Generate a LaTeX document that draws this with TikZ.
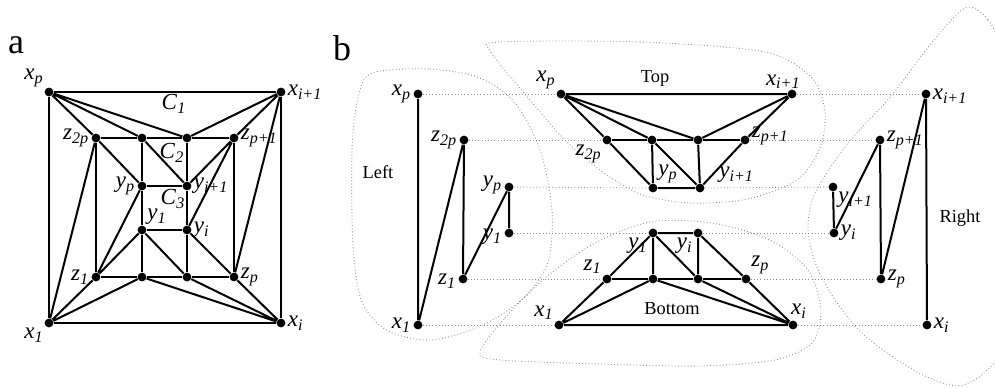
\documentclass[tikz,border=0pt]{standalone}
\usepackage{fontspec}
\setmainfont{Liberation Serif}
\newcommand{\vx}[2]{\textit{#1}\textsubscript{\textit{#2}}}

\begin{document}
\begin{tikzpicture}[
  x=0.5pt, y=-0.5pt,
  font=\fontsize{9.2}{11}\selectfont,
  dot/.style={circle, fill=black, inner sep=0pt, minimum size=4.4pt},
  edge/.style={line width=1pt},
  guide/.style={dash pattern=on 0.4pt off 1.2pt, black!45, line width=0.4pt},
  blob/.style={dash pattern=on 0.4pt off 1.2pt, black!45, line width=0.45pt},
  lbl/.style={inner sep=0.8pt, font=\fontsize{11.5}{13}\selectfont},
  panel/.style={font=\fontsize{18}{20}\selectfont}
]
\useasboundingbox (0,0) rectangle (995,387);
\clip (0,0) rectangle (995,387);
% --- panel a ---
\node[panel] (pa) at (16,45) {a};
\node[dot, label={[lbl]above left:\vx{x}{p}}] (axp) at (49,92) {};
\node[dot, label={[lbl]right:\vx{x}{i+1}}] (axq) at (281,92) {};
\node[dot, label={[lbl]below left:\vx{x}{1}}] (axa) at (49,323) {};
\node[dot, label={[lbl]right:\vx{x}{i}}] (axi) at (281,323) {};
\node[dot, label={[lbl]left:\vx{z}{2p}}] (az2p) at (96,138) {};
\node[dot] (au1) at (142,138) {};
\node[dot] (au2) at (187,138) {};
\node[dot, label={[lbl]right:\vx{z}{p+1}}] (azq) at (234,138) {};
\node[dot, label={[lbl]left:\vx{y}{p}}] (ayp) at (142,186) {};
\node[dot, label={[lbl]right:\vx{y}{i+1}}] (ayq) at (187,186) {};
\node[dot, label={[lbl]above right:\vx{y}{1}}] (aya) at (142,230) {};
\node[dot, label={[lbl]right:\vx{y}{i}}] (ayi) at (187,230) {};
\node[dot, label={[lbl]left:\vx{z}{1}}] (aza) at (96,277) {};
\node[dot] (ad1) at (142,277) {};
\node[dot] (ad2) at (187,277) {};
\node[dot, label={[lbl]right:\vx{z}{p}}] (azp) at (234,277) {};
\node[lbl] (c1) at (174,104) {\vx{C}{1}};
\node[lbl] (c2) at (172,153) {\vx{C}{2}};
\node[lbl] (c3) at (173,199) {\vx{C}{3}};
\draw[edge] (axp) -- (axq) -- (axi) -- (axa) -- (axp);
\draw[edge] (axp) -- (az2p) (axp) -- (au1) (axp) -- (au2);
\draw[edge] (axq) -- (au2) (axq) -- (azq) (axq) -- (azp);
\draw[edge] (axi) -- (azp) (axi) -- (ad2) (axi) -- (ad1);
\draw[edge] (axa) -- (ad1) (axa) -- (aza) (axa) -- (az2p);
\draw[edge] (az2p) -- (au1) -- (au2) -- (azq) -- (azp) -- (ad2) -- (ad1) -- (aza) -- (az2p);
\draw[edge] (au1) -- (ayp) -- (aya) -- (ad1) (au2) -- (ayq) -- (ayi) -- (ad2);
\draw[edge] (ayp) -- (ayq) (aya) -- (ayi);
\draw[edge] (az2p) -- (ayp) (au1) -- (ayq) (azq) -- (ayq) (azq) -- (ayi);
\draw[edge] (aza) -- (ayp) (aza) -- (aya) (aya) -- (ad2) (ayi) -- (azp);
% --- panel b: regions ---
\node[panel] (pb) at (342,48) {b};
\draw[blob] plot[smooth cycle] coordinates {(372,73) (430,69) (480,78) (515,103) (540,150)
  (552,210) (548,262) (525,297) (483,325) (432,340) (388,331) (362,302) (353,245) (352,150) (358,98)};
\draw[blob] plot[smooth cycle] coordinates {(500,42) (640,42) (765,52) (812,78) (825,112)
  (820,148) (797,180) (748,199) (690,203) (640,194) (600,170) (565,140) (530,100) (491,52)};
\draw[blob] plot[smooth cycle] coordinates {(480,352) (505,318) (545,278) (595,243) (650,222)
  (712,223) (770,240) (808,270) (821,310) (812,343) (775,360) (700,366) (600,364) (500,360)};
\draw[blob] plot[smooth cycle] coordinates {(965,8) (988,20) (1002,60) (1008,200) (1002,340)
  (985,372) (958,386) (925,376) (890,355) (860,331) (835,300) (816,265) (808,230) (813,198)
  (832,165) (855,135) (892,95) (930,45)};
\node (tleft) at (378,172) {Left};
\node (ttop) at (655,78) {Top};
\node (tbot) at (672,309) {Bottom};
\node (tright) at (960,218) {Right};
% --- left ---
\node[dot, label={[lbl]left:\vx{x}{p}}] (lxp) at (418,94) {};
\node[dot, label={[lbl]left:\vx{z}{2p}}] (lz2p) at (464,140) {};
\node[dot, label={[lbl,yshift=1pt]left:\vx{y}{p}}] (lyp) at (509,187) {};
\node[dot, label={[lbl,yshift=-2pt]left:\vx{y}{1}}] (lya) at (509,233) {};
\node[dot, label={[lbl,yshift=-1pt]left:\vx{z}{1}}] (lza) at (463,279) {};
\node[dot, label={[lbl]left:\vx{x}{1}}] (lxa) at (418,325) {};
\draw[edge] (lxp) -- (lxa) -- (lz2p) -- (lza) -- (lyp) -- (lya);
% --- top ---
\node[dot, label={[lbl]above left:\vx{x}{p}}] (txp) at (561,94) {};
\node[dot, label={[lbl,xshift=7pt]above left:\vx{x}{i+1}}] (txq) at (792,94) {};
\node[dot, label={[lbl]below left:\vx{z}{2p}}] (tz2p) at (607,140) {};
\node[dot] (tu1) at (652,140) {};
\node[dot] (tu2) at (698,140) {};
\node[dot, label={[lbl,yshift=2pt]right:\vx{z}{p+1}}] (tzq) at (745,140) {};
\node[dot, label={[lbl]above right:\vx{y}{p}}] (typ) at (653,188) {};
\node[dot, label={[lbl,xshift=7pt]above right:\vx{y}{i+1}}] (tyq) at (700,188) {};
\draw[edge] (txp) -- (txq) (txp) -- (tz2p) (txp) -- (tu1) (txp) -- (tu2);
\draw[edge] (txq) -- (tu2) (txq) -- (tzq);
\draw[edge] (tz2p) -- (tu1) -- (tu2) -- (tzq);
\draw[edge] (tz2p) -- (typ) (tu1) -- (typ) (tu1) -- (tyq) (tu2) -- (tyq) (tzq) -- (tyq) (typ) -- (tyq);
% --- bottom ---
\node[dot, label={[lbl]below left:\vx{y}{1}}] (bya) at (653,233) {};
\node[dot, label={[lbl]below left:\vx{y}{i}}] (byi) at (698,233) {};
\node[dot, label={[lbl]above left:\vx{z}{1}}] (bza) at (607,279) {};
\node[dot] (bd1) at (653,279) {};
\node[dot] (bd2) at (698,279) {};
\node[dot, label={[lbl]above right:\vx{z}{p}}] (bzp) at (746,279) {};
\node[dot, label={[lbl]above left:\vx{x}{1}}] (bxa) at (559,325) {};
\node[dot, label={[lbl,xshift=3pt]above:\vx{x}{i}}] (bxi) at (793,325) {};
\draw[edge] (bxa) -- (bxi) (bxa) -- (bza) (bxa) -- (bd1);
\draw[edge] (bxi) -- (bd1) (bxi) -- (bd2) (bxi) -- (bzp);
\draw[edge] (bza) -- (bd1) -- (bd2) -- (bzp);
\draw[edge] (bza) -- (bya) (bya) -- (bd1) (bya) -- (bd2) (byi) -- (bd2) (bya) -- (byi) (byi) -- (bzp);
% --- right ---
\node[dot, label={[lbl,yshift=-1pt]right:\vx{x}{i+1}}] (rxq) at (926,94) {};
\node[dot, label={[lbl]right:\vx{z}{p+1}}] (rzq) at (880,140) {};
\node[dot, label={[lbl]below right:\vx{y}{i+1}}] (ryq) at (833,187) {};
\node[dot, label={[lbl]right:\vx{y}{i}}] (ryi) at (834,233) {};
\node[dot, label={[lbl]right:\vx{z}{p}}] (rzp) at (881,279) {};
\node[dot, label={[lbl]right:\vx{x}{i}}] (rxi) at (927,325) {};
\draw[edge] (rxq) -- (rxi) (rxq) -- (rzp) -- (rzq) -- (ryi) -- (ryq);
% --- guides ---
\draw[guide] (lxp) -- (txp) (txq) -- (rxq);
\draw[guide] (lz2p) -- (tz2p) (tzq) -- (rzq);
\draw[guide] (lyp) -- (typ) (tyq) -- (ryq);
\draw[guide] (lya) -- (bya) (byi) -- (ryi);
\draw[guide] (lza) -- (bza) (bzp) -- (rzp);
\draw[guide] (lxa) -- (bxa) (bxi) -- (rxi);
\end{tikzpicture}
\end{document}
